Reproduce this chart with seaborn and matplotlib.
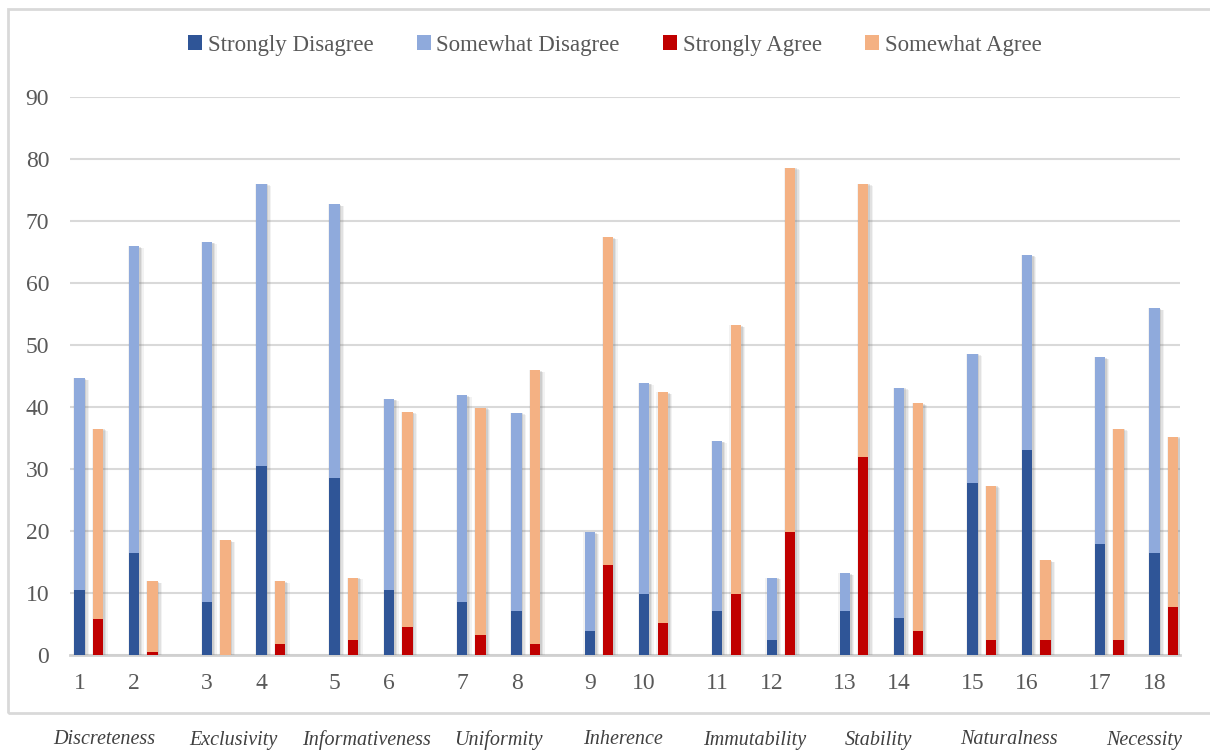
import numpy as np
import pandas as pd
import seaborn as sns
import matplotlib.pyplot as plt
import matplotlib.patheffects as pe
from matplotlib.patches import Patch, Rectangle

# --- data -------------------------------------------------------------
items = list(range(1, 19))
dimensions = ["Discreteness", "Exclusivity", "Informativeness", "Uniformity",
              "Inherence", "Immutability", "Stability", "Naturalness", "Necessity"]

strongly_disagree = [10.5, 16.5, 8.5, 30.5, 28.6, 10.5, 8.5, 7.1, 3.8,
                     9.9, 7.1, 2.5, 7.1, 5.9, 27.8, 33.1, 17.9, 16.5]
somewhat_disagree = [34.1, 49.4, 58.1, 45.5, 44.1, 30.8, 33.4, 32.0, 16.0,
                     34.0, 27.4, 10.0, 6.1, 37.2, 20.8, 31.4, 30.1, 39.4]
strongly_agree = [5.8, 0.5, 0.0, 1.8, 2.5, 4.5, 3.2, 1.8, 14.5,
                  5.1, 9.9, 19.8, 31.9, 3.8, 2.5, 2.5, 2.5, 7.8]
somewhat_agree = [30.7, 11.4, 18.5, 10.1, 10.0, 34.7, 36.7, 44.1, 52.9,
                  37.3, 43.3, 58.8, 44.1, 36.8, 24.8, 12.8, 34.0, 27.4]

yticks = list(range(0, 100, 10))

colors = {
    "Strongly Disagree": "#2F5597",
    "Somewhat Disagree": "#8FAADC",
    "Strongly Agree": "#C00000",
    "Somewhat Agree": "#F4B183",
}

# --- layout: items come in pairs, one pair per dimension ---------------
PAIR_PITCH = 2.34
AGREE_SHIFT = 0.34
BAR_W = 0.19
LABEL_NUDGE = [-0.22, -0.18, -0.08, 0.0, -0.06, 0.02, -0.05, 0.0, 0.14]

pos = np.array([(i // 2) * PAIR_PITCH + (i % 2) for i in range(len(items))])

df = pd.DataFrame({
    "pos": pos,
    "pos_agree": pos + AGREE_SHIFT,
    "sd": strongly_disagree,
    "swd": somewhat_disagree,
    "sa": strongly_agree,
    "swa": somewhat_agree,
})
df["dis_total"] = df["sd"] + df["swd"]
df["agr_total"] = df["sa"] + df["swa"]

# --- figure -----------------------------------------------------------
sns.set_theme(style="white")
plt.rcParams["font.family"] = ["Liberation Serif", "DejaVu Serif"]

fig = plt.figure(figsize=(12.1, 7.53), dpi=100)
W, H = 1210, 753
ax = fig.add_axes([70 / W, 1 - 655 / H, (1180 - 70) / W, (655 - 97) / H])

# soft grey drop shadow, heavier toward the lower right
shadow = [
    pe.SimplePatchShadow(offset=(-0.8, 0), shadow_rgbFace="#808080", alpha=0.10),
    pe.SimplePatchShadow(offset=(3.2, -1.4), shadow_rgbFace="#808080", alpha=0.10),
    pe.SimplePatchShadow(offset=(2.2, -1.0), shadow_rgbFace="#808080", alpha=0.15),
    pe.SimplePatchShadow(offset=(1.2, -0.5), shadow_rgbFace="#808080", alpha=0.20),
    pe.Normal(),
]

layers = [
    ("pos", "dis_total", "Somewhat Disagree", True),
    ("pos", "sd", "Strongly Disagree", False),
    ("pos_agree", "agr_total", "Somewhat Agree", True),
    ("pos_agree", "sa", "Strongly Agree", False),
]
for xcol, ycol, name, with_shadow in layers:
    n_before = len(ax.patches)
    sns.barplot(data=df, x=xcol, y=ycol, native_scale=True, width=BAR_W,
                color=colors[name], saturation=1, errorbar=None, ax=ax,
                linewidth=0, zorder=3)
    if with_shadow:
        for p in ax.patches[n_before:]:
            p.set_path_effects(shadow)

# --- axes styling -----------------------------------------------------
ax.set_ylim(0, 90)
ax.set_xlim(-0.174, 20.19)
ax.set_yticks(yticks)
ax.set_yticklabels([str(t) for t in yticks], fontsize=17, color="#595959")
ax.set_xticks(pos)
ax.set_xticklabels([str(i) for i in items], fontsize=17, color="#595959")
ax.tick_params(axis="y", length=0, pad=15)
ax.tick_params(axis="x", length=0, pad=13)
ax.set_xlabel("")
ax.set_ylabel("")
ax.yaxis.grid(True, color="#d9d9d9", linewidth=1.5, zorder=0)
ax.xaxis.grid(False)
ax.set_axisbelow(True)
for side in ["top", "right", "left"]:
    ax.spines[side].set_visible(False)
ax.spines["bottom"].set_color("#d0d0d0")
ax.spines["bottom"].set_linewidth(2)
ax.spines["bottom"].set_zorder(2)

# dimension names under the chart frame
for k, name in enumerate(dimensions):
    xc = k * PAIR_PITCH + 0.5 + AGREE_SHIFT / 2 + LABEL_NUDGE[k]
    xf = fig.transFigure.inverted().transform(ax.transData.transform((xc, 0)))[0]
    fig.text(xf, 1 - 740 / H, name, ha="center", va="center",
             fontsize=14.5, style="italic", color="#404040")

# chart frame
fig.patches.append(Rectangle((8 / W, 1 - 713 / H), 1.2, (713 - 9) / H,
                             transform=fig.transFigure, fill=False,
                             edgecolor="#d9d9d9", linewidth=2, zorder=0))

# legend
order = ["Strongly Disagree", "Somewhat Disagree", "Strongly Agree", "Somewhat Agree"]
handles = [Patch(facecolor=colors[n], edgecolor="none", label=n) for n in order]
fig.legend(handles=handles, loc="center", bbox_to_anchor=(615 / W, 1 - 45 / H),
           ncol=4, frameon=False, fontsize=16.5, handlelength=0.6,
           handleheight=0.6, handletextpad=0.25, columnspacing=1.9,
           labelcolor="#595959")

fig.savefig("out.png", dpi=100)
